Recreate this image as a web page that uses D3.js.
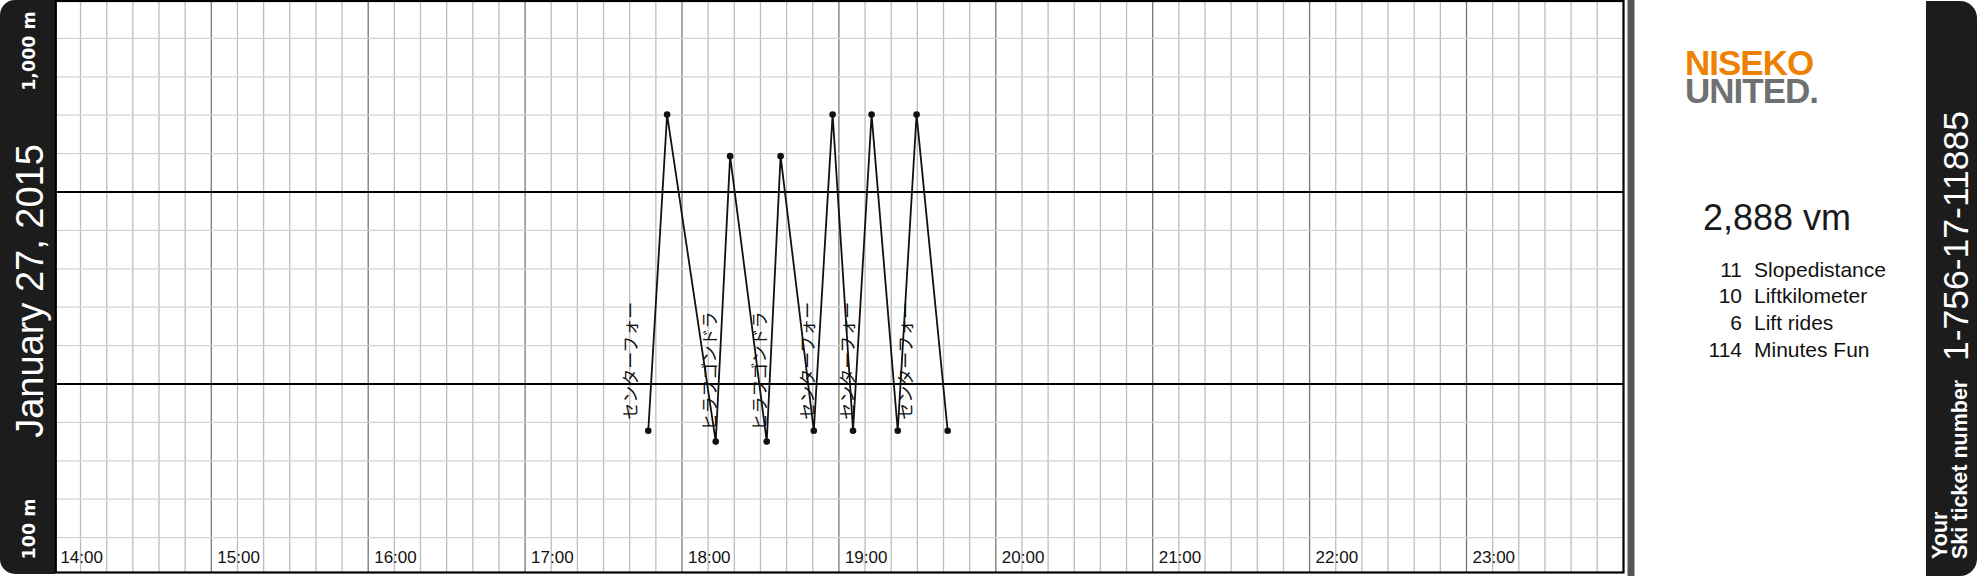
<!DOCTYPE html>
<html>
<head>
<meta charset="utf-8">
<script src="https://cdn.jsdelivr.net/npm/d3@7"></script>
<style>
  body { margin: 0; background: #fff; }
  svg { display: block; }
</style>
</head>
<body>
<svg id="ticket" width="1977" height="584"></svg>
<script>
// ride data (one day of lift rides)
var rideDate = "2015-01-27";
var pointTimes = ["17:47:06", "17:54:18", "18:12:54", "18:18:24", "18:32:24", "18:37:42", "18:50:24",
                  "18:57:36", "19:05:24", "19:12:30", "19:22:30", "19:29:42", "19:41:36"];
var pointElev = [327, 821, 310, 756, 310, 756, 327, 821, 327, 821, 327, 821, 327];
var liftNames = ["センターフォー", "ヒラフゴンドラ", "ヒラフゴンドラ", "センターフォー", "センターフォー", "センターフォー"];
var labelTimes = ["17:42:47", "18:12:54", "18:32:00", "18:50:30", "19:05:48", "19:28:06"];
var labelElev = [327, 310, 310, 327, 327, 327];
var hourLabels = ["14:00", "15:00", "16:00", "17:00", "18:00", "19:00", "20:00", "21:00", "22:00", "23:00"];
var elevLabels = ["1,000 m", "100 m"];
var statValues = ["11", "10", "6", "114"];
var statNames = ["Slopedistance", "Liftkilometer", "Lift rides", "Minutes Fun"];
var verticalMeters = "2,888 vm";
var dateLabel = "January 27, 2015";
var ticketNumber = "1-756-17-11885";

var svg = d3.select("#ticket"),
  parse = d3.timeParse("%Y-%m-%d %H:%M:%S"),
  t0 = parse(rideDate + " 14:00:00"),
  t1 = d3.timeHour.offset(t0, 10),
  x = d3.scaleTime().domain([t0, t1]).range([54.4, 1623.4]),
  y = d3.scaleLinear().domain([100, 1000]).range([576, 0]),
  sans = "'Liberation Sans', Arial, sans-serif";

function at(s) { return parse(rideDate + " " + s); }

// side bars
function sideBar(x0, x1, y0, y1, r, left) {
  var p = d3.path();
  if (left) {
    p.moveTo(x1, y0); p.lineTo(x0 + r, y0);
    p.arcTo(x0, y0, x0, y0 + r, r); p.lineTo(x0, y1 - r);
    p.arcTo(x0, y1, x0 + r, y1, r); p.lineTo(x1, y1);
  } else {
    p.moveTo(x0, y0); p.lineTo(x1 - r, y0);
    p.arcTo(x1, y0, x1, y0 + r, r); p.lineTo(x1, y1 - r);
    p.arcTo(x1, y1, x1 - r, y1, r); p.lineTo(x0, y1);
  }
  p.closePath();
  return p.toString();
}
svg.append("path").attr("d", sideBar(0, 55, 0, 574, 15, true)).attr("fill", "#1c1c1c");
svg.append("path").attr("d", sideBar(1926, 1977, 1, 576, 17, false)).attr("fill", "#1c1c1c");
svg.append("rect").attr("x", 1627.5).attr("y", 0).attr("width", 7).attr("height", 576).attr("fill", "#555");

// chart grid
svg.append("clipPath").attr("id", "plot")
  .append("rect").attr("x", 55.8).attr("y", 1).attr("width", 1567.7).attr("height", 571.5);
var grid = svg.append("g").attr("clip-path", "url(#plot)");

var minutes = d3.timeMinute.every(10).range(t0, t1);
grid.selectAll(".vx").data(minutes).enter().append("line")
  .attr("x1", function (d) { return x(d); }).attr("x2", function (d) { return x(d); })
  .attr("y1", 0).attr("y2", 576)
  .attr("stroke", function (d) { return d.getMinutes() === 0 ? "#777" : "#bdbdbd"; })
  .attr("stroke-width", 1.3);

var levels = d3.range(100, 1001, 60);
grid.selectAll(".hy").data(levels).enter().append("line")
  .attr("x1", 0).attr("x2", 1977)
  .attr("y1", function (d) { return y(d); }).attr("y2", function (d) { return y(d); })
  .attr("stroke", function (d) { return (d - 100) % 300 === 0 ? "#000" : "#d3d3d3"; })
  .attr("stroke-width", function (d) { return (d - 100) % 300 === 0 ? 2 : 1.3; });

svg.append("rect").attr("x", 55.8).attr("y", 1).attr("width", 1567.7).attr("height", 571.5)
  .attr("fill", "none").attr("stroke", "#000").attr("stroke-width", 2.2);

// hour labels
svg.selectAll(".hour").data(hourLabels).enter().append("text")
  .attr("x", function (d) { return x(at(d + ":00")) + 6; })
  .attr("y", 563)
  .attr("font-family", sans).attr("font-size", 17).attr("fill", "#111")
  .text(function (d) { return d; });

// ride line
var pts = pointTimes.map(function (t, i) { return { t: at(t), e: pointElev[i] }; });
var line = d3.line().x(function (d) { return x(d.t); }).y(function (d) { return y(d.e); });
svg.append("path").datum(pts).attr("d", line)
  .attr("fill", "none").attr("stroke", "#111").attr("stroke-width", 1.8);
svg.selectAll(".pt").data(pts).enter().append("circle")
  .attr("cx", function (d) { return x(d.t); }).attr("cy", function (d) { return y(d.e); })
  .attr("r", 3.3).attr("fill", "#111");

svg.selectAll(".lift").data(liftNames).enter().append("text")
  .attr("transform", function (d, i) {
    return "translate(" + x(at(labelTimes[i])) + "," + (y(labelElev[i]) - 11) + ") rotate(-90)";
  })
  .attr("font-family", "'Noto Sans CJK JP', sans-serif").attr("font-size", 17).attr("fill", "#111")
  .text(function (d) { return d; });

// left bar texts
svg.append("text").attr("transform", "translate(42.5,291) rotate(-90)")
  .attr("text-anchor", "middle").attr("font-family", sans).attr("font-size", 38).attr("fill", "#fff")
  .text(dateLabel);
svg.selectAll(".elev").data(elevLabels).enter().append("text")
  .attr("transform", function (d, i) { return "translate(35," + (i === 0 ? 51 : 529) + ") rotate(-90)"; })
  .attr("text-anchor", "middle").attr("font-family", "'DejaVu Sans', sans-serif")
  .attr("font-weight", "bold").attr("font-size", 17.5).attr("fill", "#fff")
  .text(function (d) { return d; });

// logo, one text block with two lines
var logo = svg.append("text").attr("font-family", sans).attr("font-weight", "bold")
  .attr("font-size", 35).attr("letter-spacing", -1);
logo.append("tspan").attr("x", 1685).attr("y", 75).attr("fill", "#ee8104").text("NISEKO");
logo.append("tspan").attr("x", 1685).attr("y", 103.3).attr("fill", "#707070").text("UNITED.");

// stats
svg.append("text").attr("x", 1703).attr("y", 230).attr("font-family", sans).attr("font-size", 36)
  .attr("fill", "#1a1a1a").text(verticalMeters);
var stats = svg.append("g").attr("font-family", sans).attr("font-size", 21).attr("fill", "#111");
stats.selectAll(".sv").data(statValues).enter().append("text")
  .attr("x", 1742).attr("y", function (d, i) { return 276.7 + i * 26.7; })
  .attr("text-anchor", "end").text(function (d) { return d; });
stats.selectAll(".sn").data(statNames).enter().append("text")
  .attr("x", 1754).attr("y", function (d, i) { return 276.7 + i * 26.7; })
  .text(function (d) { return d; });

// ticket number bar
svg.append("text").attr("transform", "translate(1968,236) rotate(-90)")
  .attr("text-anchor", "middle").attr("font-family", sans).attr("font-size", 35.5).attr("fill", "#fff")
  .text(ticketNumber);
var label = svg.append("text").attr("transform", "translate(1946.5,559) rotate(-90)")
  .attr("font-family", sans).attr("font-weight", "bold").attr("font-size", 21.5).attr("fill", "#fff");
label.append("tspan").attr("x", 0).attr("y", 0).text("Your");
label.append("tspan").attr("x", 0).attr("y", 20.2).text("Ski ticket number");
</script>
</body>
</html>
